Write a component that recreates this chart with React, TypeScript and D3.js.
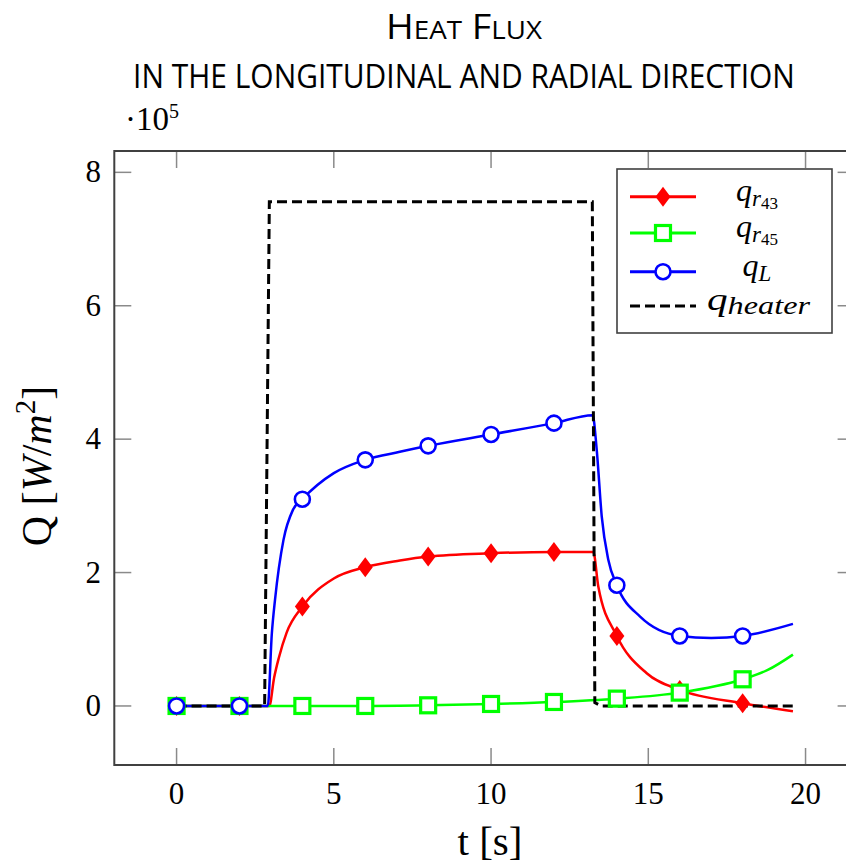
import React, { useLayoutEffect, useRef, useState } from "react";
import * as d3 from "d3";

// ---- data (values in units of 1e5 W/m^2) ----
const tL = [0, 2, 2.9, 3.03, 3.13, 3.4, 3.7, 4, 5, 6, 7.1, 8, 10, 12, 13.23, 13.36, 13.52, 13.73, 14, 14.74, 16, 17, 18, 19.6];
const qL = [0, 0, 0, 1.09, 1.59, 2.49, 2.94, 3.1, 3.49, 3.69, 3.81, 3.9, 4.07, 4.24, 4.36, 3.84, 2.84, 2.19, 1.81, 1.34, 1.05, 1.02, 1.05, 1.23];

const tR43 = [0, 2, 2.95, 3.1, 3.25, 3.5, 4, 5, 6, 7.1, 8, 10, 12, 13.25, 13.41, 14, 14.95, 16, 18, 19.6];
const qR43 = [0, 0, 0, 0.42, 0.72, 1.1, 1.49, 1.91, 2.08, 2.18, 2.24, 2.29, 2.31, 2.31, 1.79, 1.05, 0.49, 0.24, 0.04, -0.08];

const tR45 = [0, 2, 4, 6, 8, 10, 12, 14, 16, 18, 18.8, 19.6];
const qR45 = [0, 0, 0, 0, 0.01, 0.03, 0.06, 0.11, 0.2, 0.4, 0.54, 0.77];

const tHeater = [0, 2.8, 2.95, 13.22, 13.3, 13.5, 19.6];
const qHeater = [0, 0, 7.56, 7.56, 0.05, 0, 0];

const markerTimes = [0, 2, 4, 6, 8, 10, 12, 14, 16, 18];
const xTicks = [0, 5, 10, 15, 20];
const yTicks = [0, 2, 4, 6, 8];

const W = 846;
const H = 868;

const x = d3.scaleLinear().domain([-1.98, 21.56]).range([114.3, 854.6]);
const y = d3.scaleLinear().domain([-0.885, 8.32]).range([765, 151]);

type P = [number, number];
const zip = (t: number[], v: number[]): P[] => t.map((d, i) => [d, v[i]]);

const smooth = d3
  .line<P>()
  .x((d) => x(d[0]))
  .y((d) => y(d[1]))
  .curve(d3.curveMonotoneX);
const straight = d3
  .line<P>()
  .x((d) => x(d[0]))
  .y((d) => y(d[1]));

const RED = "#ff0000";
const GREEN = "#00ff00";
const BLUE = "#0000ff";

const serif = "Liberation Serif, DejaVu Serif, serif";
const sans = "Open Sans, Noto Sans, sans-serif";

const markersAt = (t: number[], v: number[]) =>
  markerTimes.map((mt) => [mt, v[t.indexOf(mt)]] as P);

function Diamond({ cx, cy }: { cx: number; cy: number }) {
  return (
    <path
      d={`M${cx},${cy - 10}L${cx + 7.5},${cy}L${cx},${cy + 10}L${cx - 7.5},${cy}Z`}
      fill={RED}
    />
  );
}
function Square({ cx, cy }: { cx: number; cy: number }) {
  return (
    <rect x={cx - 7.5} y={cy - 7.5} width={15} height={15} fill="white" stroke={GREEN} strokeWidth={3.2} />
  );
}
function Circle({ cx, cy }: { cx: number; cy: number }) {
  return <circle cx={cx} cy={cy} r={7.5} fill="white" stroke={BLUE} strokeWidth={2.6} />;
}

// text squeezed horizontally to a target width (Calibri-like condensed look)
function FitText({
  cx,
  baseline,
  width,
  children,
  fontSize,
}: {
  cx: number;
  baseline: number;
  width: number;
  children: React.ReactNode;
  fontSize: number;
}) {
  const ref = useRef<SVGTextElement>(null);
  const [sx, setSx] = useState(0.8);
  useLayoutEffect(() => {
    if (ref.current) {
      const w = ref.current.getBBox().width;
      if (w > 0) setSx(width / w);
    }
  }, [width]);
  return (
    <g transform={`translate(${cx},${baseline}) scale(${sx},1)`}>
      <text ref={ref} x={0} y={0} textAnchor="middle" fontFamily={sans} fontSize={fontSize} fill="black">
        {children}
      </text>
    </g>
  );
}

export default function App() {
  const left = x.range()[0];
  const right = x.range()[1];
  const top = y.range()[1];
  const bottom = y.range()[0];
  const tickLen = 17;

  const legendRows = [196.7, 233, 271.7, 306];
  const lx0 = 630;
  const lx1 = 696;
  const lmx = 663;
  const labelX = 757;

  return (
    <svg
      width={W}
      height={H}
      viewBox={`0 0 ${W} ${H}`}
      style={{ position: "absolute", left: 0, top: 0, background: "white" }}
    >
      <rect x={0} y={0} width={W} height={H} fill="white" />

      {/* titles */}
      <FitText cx={464} baseline={39} width={156} fontSize={34}>
        <tspan>H</tspan>
        <tspan fontSize={25}>EAT</tspan>
        <tspan> F</tspan>
        <tspan fontSize={25}>LUX</tspan>
      </FitText>
      <FitText cx={464} baseline={88} width={662} fontSize={32}>
        IN THE LONGITUDINAL AND RADIAL DIRECTION
      </FitText>

      {/* exponent */}
      <text x={125} y={130} fontFamily={serif} fontSize={33} fill="black">
        <tspan>·10</tspan>
        <tspan fontSize={20} dy={-12}>5</tspan>
      </text>

      {/* ticks (inside, all four sides) */}
      <g stroke="#8a8a8a" strokeWidth={1.5}>
        {xTicks.map((t) => (
          <g key={"xt" + t}>
            <line x1={x(t)} x2={x(t)} y1={bottom} y2={bottom - tickLen} />
            <line x1={x(t)} x2={x(t)} y1={top} y2={top + tickLen} />
          </g>
        ))}
        {yTicks.map((v) => (
          <g key={"yt" + v}>
            <line x1={left} x2={left + tickLen} y1={y(v)} y2={y(v)} />
            <line x1={right} x2={right - tickLen} y1={y(v)} y2={y(v)} />
          </g>
        ))}
      </g>

      {/* tick labels */}
      <g fontFamily={serif} fontSize={31} fill="black">
        {xTicks.map((t) => (
          <text key={"xl" + t} x={x(t)} y={804} textAnchor="middle">
            {t}
          </text>
        ))}
        {yTicks.map((v) => (
          <text key={"yl" + v} x={101} y={y(v) + 10} textAnchor="end">
            {v}
          </text>
        ))}
      </g>

      {/* axis labels */}
      <text x={490} y={855} textAnchor="middle" fontFamily={serif} fontSize={41} fill="black">
        t [s]
      </text>
      <text
        transform={`translate(51,466) rotate(-90)`}
        textAnchor="middle"
        fontFamily={serif}
        fontSize={42}
        fill="black"
      >
        <tspan>Q [</tspan>
        <tspan fontStyle="italic">W</tspan>
        <tspan>/</tspan>
        <tspan fontStyle="italic">m</tspan>
        <tspan fontSize={29} dy={-16}>2</tspan>
        <tspan dy={16}>]</tspan>
      </text>

      {/* series lines */}
      <path d={smooth(zip(tR43, qR43)) || ""} fill="none" stroke={RED} strokeWidth={2.5} />
      <path d={smooth(zip(tR45, qR45)) || ""} fill="none" stroke={GREEN} strokeWidth={2.5} />
      <path d={smooth(zip(tL, qL)) || ""} fill="none" stroke={BLUE} strokeWidth={2.5} />
      <path
        d={straight(zip(tHeater, qHeater)) || ""}
        fill="none"
        stroke="black"
        strokeWidth={3}
        strokeDasharray="10 5"
      />

      {/* markers */}
      {markersAt(tR43, qR43).map((p) => (
        <Diamond key={"r" + p[0]} cx={x(p[0])} cy={y(p[1])} />
      ))}
      {markersAt(tR45, qR45).map((p) => (
        <Square key={"g" + p[0]} cx={x(p[0])} cy={y(p[1])} />
      ))}
      {markersAt(tL, qL).map((p) => (
        <Circle key={"b" + p[0]} cx={x(p[0])} cy={y(p[1])} />
      ))}

      {/* frame */}
      <rect
        x={left}
        y={top}
        width={right - left}
        height={bottom - top}
        fill="none"
        stroke="#404040"
        strokeWidth={2}
      />

      {/* legend */}
      <rect x={617} y={169} width={215} height={164} fill="white" stroke="#404040" strokeWidth={1.6} />
      <line x1={lx0} x2={lx1} y1={legendRows[0]} y2={legendRows[0]} stroke={RED} strokeWidth={3} />
      <Diamond cx={lmx} cy={legendRows[0]} />
      <line x1={lx0} x2={lx1} y1={legendRows[1]} y2={legendRows[1]} stroke={GREEN} strokeWidth={3} />
      <Square cx={lmx} cy={legendRows[1]} />
      <line x1={lx0} x2={lx1} y1={legendRows[2]} y2={legendRows[2]} stroke={BLUE} strokeWidth={3} />
      <Circle cx={lmx} cy={legendRows[2]} />
      <line
        x1={lx0}
        x2={lx1}
        y1={legendRows[3]}
        y2={legendRows[3]}
        stroke="black"
        strokeWidth={3}
        strokeDasharray="10 5"
      />

      <g fontFamily={serif} fontStyle="italic" fill="black">
        <text x={labelX} y={legendRows[0] + 4} textAnchor="middle" fontSize={32}>
          <tspan>q</tspan>
          <tspan fontSize={23} dy={5}>r</tspan>
          <tspan fontSize={17} fontStyle="normal" dy={3}>43</tspan>
        </text>
        <text x={labelX} y={legendRows[1] + 4} textAnchor="middle" fontSize={32}>
          <tspan>q</tspan>
          <tspan fontSize={23} dy={5}>r</tspan>
          <tspan fontSize={17} fontStyle="normal" dy={3}>45</tspan>
        </text>
        <text x={labelX} y={legendRows[2] + 4} textAnchor="middle" fontSize={32}>
          <tspan>q</tspan>
          <tspan fontSize={23} dy={5}>L</tspan>
        </text>
        <text x={707} y={legendRows[3] + 4} fontSize={32} textLength={103} lengthAdjust="spacingAndGlyphs">
          <tspan>q</tspan>
          <tspan fontSize={25} dy={4}>heater</tspan>
        </text>
      </g>
    </svg>
  );
}
